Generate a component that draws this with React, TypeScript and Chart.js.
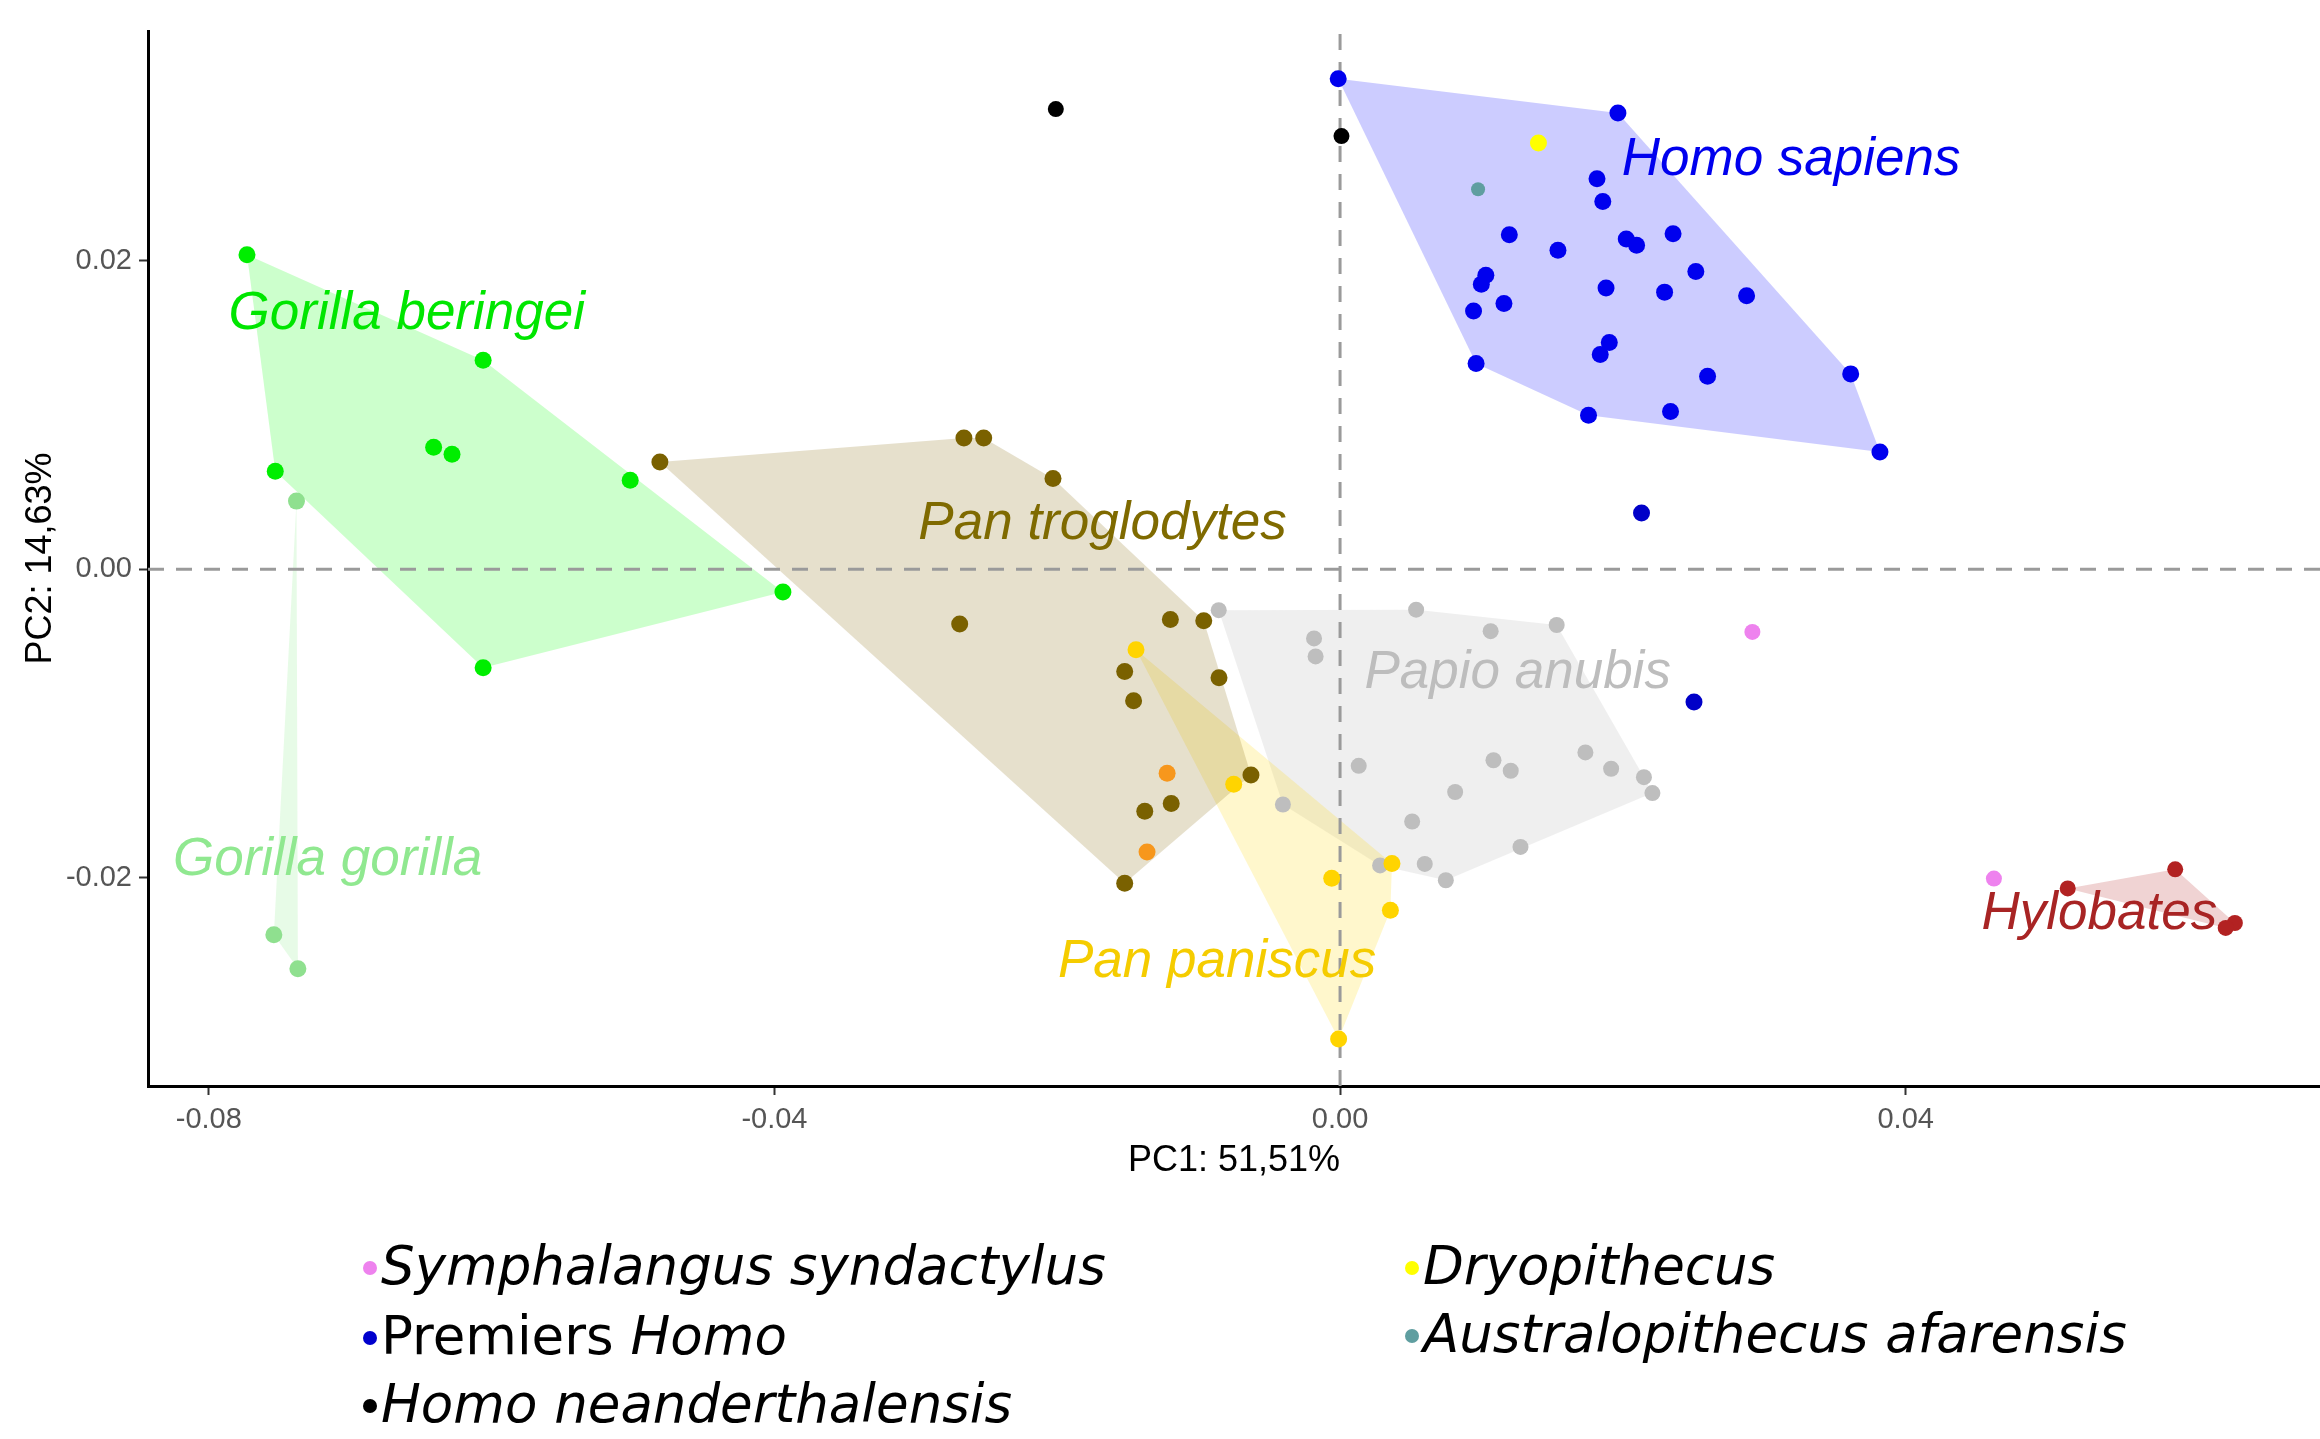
import React, { useEffect, useRef } from "react";
import { Chart, registerables } from "chart.js";

Chart.register(...registerables);

// ---------- data (PC1, PC2) ----------
const gorillaBeringeiX = [-0.0773, -0.0606, -0.0753, -0.0641, -0.0628, -0.0502, -0.0394, -0.0606];
const gorillaBeringeiY = [0.0204, 0.01356, 0.00636, 0.00791, 0.00746, 0.00577, -0.00147, -0.00638];

const gorillaGorillaX = [-0.0738, -0.0754, -0.0737];
const gorillaGorillaY = [0.00442, -0.0237, -0.0259];

const panTroglodytesX = [-0.0481, -0.0266, -0.0252, -0.0203, -0.0269, -0.012, -0.00964, -0.01523, -0.00856, -0.0146, -0.0063, -0.01194, -0.01381, -0.01523];
const panTroglodytesY = [0.00696, 0.00851, 0.00851, 0.00589, -0.00355, -0.00325, -0.00334, -0.00662, -0.00703, -0.00852, -0.01334, -0.01519, -0.01568, -0.02035];

const panOrangeX = [-0.01223, -0.01365];
const panOrangeY = [-0.01323, -0.01833];

const panPaniscusX = [-0.01443, -0.00752, -0.00059, 0.00367, 0.00356, -0.0001];
const panPaniscusY = [-0.00521, -0.01394, -0.02003, -0.01907, -0.0221, -0.03045];

const papioX = [-0.00858, 0.00538, 0.01065, 0.01532, -0.00184, -0.00173, 0.00132, 0.01085, 0.01207, 0.01735, 0.01917, 0.02149, 0.02209, 0.00814, -0.00404, 0.0051, 0.01276, 0.00283, 0.00599, 0.00748];
const papioY = [-0.00265, -0.00262, -0.00401, -0.00361, -0.00448, -0.00565, -0.01274, -0.01238, -0.01306, -0.01187, -0.01293, -0.01348, -0.01451, -0.01444, -0.01525, -0.01635, -0.018, -0.0192, -0.0191, -0.02016];

const homoSapiensX = [-0.00013, 0.01965, 0.01817, 0.01858, 0.01197, 0.01541, 0.02024, 0.02097, 0.02355, 0.02516, 0.01031, 0.00999, 0.01159, 0.00944, 0.01881, 0.02295, 0.02875, 0.01904, 0.0184, 0.00962, 0.03611, 0.02599, 0.01757, 0.02337, 0.03818];
const homoSapiensY = [0.0318, 0.02958, 0.02532, 0.02384, 0.02169, 0.02068, 0.02142, 0.02101, 0.02175, 0.01931, 0.01907, 0.01848, 0.01723, 0.01675, 0.01824, 0.01797, 0.01773, 0.0147, 0.01392, 0.01335, 0.01267, 0.01252, 0.00999, 0.01023, 0.00761];

const premiersHomoX = [0.02132, 0.02503];
const premiersHomoY = [0.00365, -0.00861];

const neanderthalX = [-0.0201, 0.0001];
const neanderthalY = [0.02984, 0.02809];

const dryopithecusX = [0.01403];
const dryopithecusY = [0.02764];

const australopithecusX = [0.00976];
const australopithecusY = [0.02464];

const symphalangusX = [0.02916, 0.04624];
const symphalangusY = [-0.00406, -0.02005];

const hylobatesX = [0.05146, 0.05906, 0.06328, 0.06263];
const hylobatesY = [-0.02069, -0.01945, -0.02293, -0.02325];

// ---------- axes ----------
const xMin = -0.0843;
const xMax = 0.0693;
const yMin = -0.0335;
const yMax = 0.0349;
const xTickValues = [-0.08, -0.04, 0, 0.04];
const xTickLabels = ["-0.08", "-0.04", "0.00", "0.04"];
const yTickValues = [-0.02, 0, 0.02];
const yTickLabels = ["-0.02", "0.00", "0.02"];
const xTitle = "PC1: 51,51%";
const yTitle = "PC2: 14,63%";

// ---------- group labels (annotation anchors in data units) ----------
const groupLabelText = ["Gorilla beringei", "Gorilla gorilla", "Pan troglodytes", "Homo sapiens", "Papio anubis", "Pan paniscus", "Hylobates"];
const groupLabelX = [-0.066, -0.0716, -0.0168, 0.0319, 0.01256, -0.0087, 0.0537];
const groupLabelY = [0.01654, -0.01886, 0.00294, 0.0265, -0.00671, -0.02548, -0.02237];
const groupLabelColor = ["#00E600", "#90E890", "#7F6A00", "#0000EE", "#BDBDBD", "#F5CC00", "#A82424"];

// ---------- legend ----------
const legendColors = ["#EE82EE", "#0000CD", "#000000", "#FFFF00", "#5F9EA0"];
const legendLabels = [
  [{ t: "Symphalangus syndactylus", i: true }],
  [{ t: "Premiers ", i: false }, { t: "Homo", i: true }],
  [{ t: "Homo neanderthalensis", i: true }],
  [{ t: "Dryopithecus", i: true }],
  [{ t: "Australopithecus afarensis", i: true }],
];
const legendLeft = [371, 371, 371, 1413, 1413];
const legendTop = [1265, 1335, 1403, 1265, 1333];

function pts(xs: number[], ys: number[]) {
  return xs.map((x, i) => ({ x, y: ys[i] }));
}

function hull(p: { x: number; y: number }[]) {
  const s = [...p].sort((a, b) => (a.x === b.x ? a.y - b.y : a.x - b.x));
  if (s.length < 3) return s;
  const cross = (o: any, a: any, b: any) => (a.x - o.x) * (b.y - o.y) - (a.y - o.y) * (b.x - o.x);
  const lower: any[] = [];
  for (const q of s) {
    while (lower.length >= 2 && cross(lower[lower.length - 2], lower[lower.length - 1], q) <= 0) lower.pop();
    lower.push(q);
  }
  const upper: any[] = [];
  for (let i = s.length - 1; i >= 0; i--) {
    const q = s[i];
    while (upper.length >= 2 && cross(upper[upper.length - 2], upper[upper.length - 1], q) <= 0) upper.pop();
    upper.push(q);
  }
  upper.pop();
  lower.pop();
  const h = lower.concat(upper);
  h.push(h[0]);
  return h;
}

const FONT = "'Liberation Sans', Arial, sans-serif";

export default function App() {
  const ref = useRef<HTMLCanvasElement | null>(null);

  useEffect(() => {
    const canvas = ref.current;
    if (!canvas) return;

    const hullDs = (xs: number[], ys: number[], fillColor: string) => ({
      type: "line" as const,
      data: hull(pts(xs, ys)),
      borderWidth: 0,
      borderColor: "rgba(0,0,0,0)",
      backgroundColor: fillColor,
      pointRadius: 0,
      fill: "shape",
      tension: 0,
      order: 5,
    });

    const ptDs = (xs: number[], ys: number[], color: string, r: number) => ({
      type: "scatter" as const,
      data: pts(xs, ys),
      pointRadius: r,
      pointBackgroundColor: color,
      pointBorderWidth: 0,
      borderColor: color,
      backgroundColor: color,
      order: 1,
    });

    const dashDs = (data: { x: number; y: number }[]) => ({
      type: "line" as const,
      data,
      borderColor: "#9A9A9A",
      borderWidth: 3,
      borderDash: [16, 12],
      pointRadius: 0,
      fill: false,
      order: 3,
    });

    const labelPlugin = {
      id: "groupLabels",
      afterDatasetsDraw(chart: any) {
        const { ctx, scales } = chart;
        ctx.save();
        ctx.font = `italic 53px ${FONT}`;
        ctx.textAlign = "center";
        ctx.textBaseline = "middle";
        groupLabelText.forEach((t, i) => {
          ctx.fillStyle = groupLabelColor[i];
          ctx.fillText(t, scales.x.getPixelForValue(groupLabelX[i]), scales.y.getPixelForValue(groupLabelY[i]));
        });
        ctx.restore();
      },
    };

    const chart = new Chart(canvas, {
      type: "scatter",
      data: {
        datasets: [
          hullDs(gorillaBeringeiX, gorillaBeringeiY, "rgba(0,255,0,0.2)"),
          hullDs(gorillaGorillaX, gorillaGorillaY, "rgba(144,238,144,0.22)"),
          hullDs(panTroglodytesX, panTroglodytesY, "rgba(128,100,0,0.2)"),
          hullDs(panPaniscusX, panPaniscusY, "rgba(255,215,0,0.2)"),
          hullDs(papioX, papioY, "rgba(190,190,190,0.25)"),
          hullDs(homoSapiensX, homoSapiensY, "rgba(0,0,255,0.2)"),
          hullDs(hylobatesX, hylobatesY, "rgba(178,34,34,0.2)"),
          dashDs([{ x: 0, y: yMin }, { x: 0, y: yMax }]),
          dashDs([{ x: xMin, y: 0 }, { x: xMax, y: 0 }]),
          ptDs(gorillaBeringeiX, gorillaBeringeiY, "#00EE00", 8.5),
          ptDs(gorillaGorillaX, gorillaGorillaY, "#8FE08F", 8.5),
          ptDs(panTroglodytesX, panTroglodytesY, "#7A6100", 8.5),
          ptDs(panOrangeX, panOrangeY, "#F7971C", 8.5),
          ptDs(panPaniscusX, panPaniscusY, "#FFD400", 8.5),
          ptDs(papioX, papioY, "#BEBEBE", 8),
          ptDs(homoSapiensX, homoSapiensY, "#0000EE", 8.5),
          ptDs(premiersHomoX, premiersHomoY, "#0000C8", 8.5),
          ptDs(neanderthalX, neanderthalY, "#000000", 8),
          ptDs(dryopithecusX, dryopithecusY, "#FFFF00", 8.5),
          ptDs(australopithecusX, australopithecusY, "#5F9EA0", 7),
          ptDs(symphalangusX, symphalangusY, "#EE82EE", 8),
          ptDs(hylobatesX, hylobatesY, "#B22222", 8),
        ] as any,
      },
      options: {
        animation: false,
        responsive: false,
        events: [],
        layout: { autoPadding: false, padding: { top: 31, right: 0, left: 0, bottom: 243 } },
        plugins: { legend: { display: false }, tooltip: { enabled: false } },
        scales: {
          x: {
            type: "linear",
            position: "bottom",
            min: xMin,
            max: xMax,
            border: { display: true, color: "#000", width: 3 },
            grid: { display: true, drawOnChartArea: false, drawTicks: true, tickLength: 9, tickWidth: 2, tickColor: "#333" },
            ticks: {
              font: { family: FONT, size: 29 },
              color: "#555",
              padding: 8,
              maxRotation: 0,
              callback: (_v: any, i: number) => xTickLabels[i],
            },
            afterBuildTicks: (s: any) => {
              s.ticks = xTickValues.map((v) => ({ value: v }));
            },
            afterFit: (s: any) => {
              s.height = 110;
              s.paddingLeft = 0;
              s.paddingRight = 0;
            },
            title: { display: true, text: xTitle, color: "#000", font: { family: FONT, size: 36 }, padding: { top: 0, bottom: 13 } },
          },
          y: {
            type: "linear",
            position: "left",
            min: yMin,
            max: yMax,
            border: { display: true, color: "#000", width: 3 },
            grid: { display: true, drawOnChartArea: false, drawTicks: true, tickLength: 9, tickWidth: 2, tickColor: "#333" },
            ticks: {
              font: { family: FONT, size: 29 },
              color: "#555",
              padding: 7,
              callback: (_v: any, i: number) => yTickLabels[i],
            },
            afterBuildTicks: (s: any) => {
              s.ticks = yTickValues.map((v) => ({ value: v }));
            },
            afterFit: (s: any) => {
              s.width = 148;
              s.paddingTop = 0;
              s.paddingBottom = 0;
            },
            title: { display: true, text: yTitle, color: "#000", font: { family: FONT, size: 36 }, padding: { top: 19, bottom: 0 } },
          },
        },
      } as any,
      plugins: [labelPlugin],
    });

    return () => chart.destroy();
  }, []);

  return (
    <div style={{ position: "absolute", left: 0, top: 0, width: 2320, height: 1439, background: "#fff", overflow: "hidden" }}>
      <canvas ref={ref} width={2320} height={1439} style={{ position: "absolute", left: 0, top: 0 }} />
      {legendLabels.map((parts, i) => (
        <div
          key={i}
          style={{
            position: "absolute",
            left: legendLeft[i] - 8,
            top: legendTop[i] - 30,
            height: 60,
            display: "flex",
            alignItems: "center",
            fontFamily: "'DejaVu Sans', sans-serif",
            fontSize: 53,
            color: "#000",
            whiteSpace: "nowrap",
          }}
        >
          <span
            style={{
              display: "inline-block",
              width: 14,
              height: 14,
              borderRadius: 7,
              background: legendColors[i],
              marginRight: 4,
              marginTop: 6,
            }}
          />
          {parts.map((p, j) => (
            <span key={j} style={{ fontStyle: p.i ? "italic" : "normal", whiteSpace: "pre" }}>
              {p.t}
            </span>
          ))}
        </div>
      ))}
    </div>
  );
}
